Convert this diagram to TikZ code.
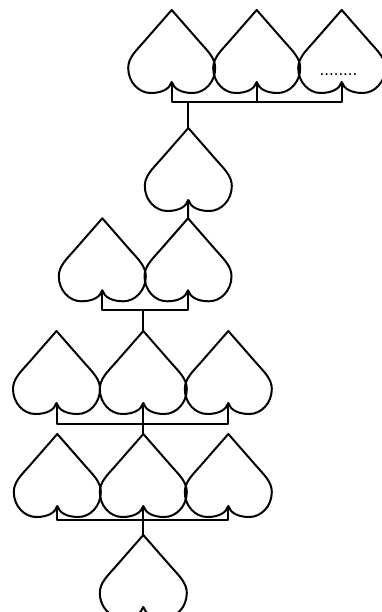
\documentclass[tikz,border=0pt]{standalone}
\usepackage{fontspec}
\setmainfont{Liberation Sans}
\begin{document}
\begin{tikzpicture}[x=1pt,y=-1pt,line width=2pt,line join=round,
  heart/.pic={
    \draw (0,0) -- (-28,32) .. controls (-36,41) and (-43.5,48) .. (-43.5,58)
      .. controls (-43.5,72) and (-33,83) .. (-21,83)
      .. controls (-10,83) and (-2,79) .. (0,72)
      .. controls (2,79) and (10,83) .. (21,83)
      .. controls (33,83) and (43.5,72) .. (43.5,58)
      .. controls (43.5,48) and (36,41) .. (28,32) -- cycle;
    \coordinate (-apex) at (0,0);
    \coordinate (-cusp) at (0,72);
  },
  dots/.style={font=\fontsize{17}{17}\selectfont,inner sep=0pt,anchor=base}]
\useasboundingbox (0,0) rectangle (381,612);
% row 1
\pic (a1) at (171.7,10) {heart};
\pic (a2) at (256.7,10) {heart};
\pic (a3) at (341.7,10) {heart};
\node[dots] (dt) at (338.5,76) {........};
% row 2
\pic (b) at (188.3,128) {heart};
% row 3
\pic (c1) at (102.3,218.3) {heart};
\pic (c2) at (188,218.3) {heart};
% row 4
\pic (d1) at (56.5,331) {heart};
\pic (d2) at (143.3,331) {heart};
\pic (d3) at (228.3,331) {heart};
% row 5
\pic (e1) at (57.3,434) {heart};
\pic (e2) at (143.3,434) {heart};
\pic (e3) at (228.3,434) {heart};
% row 6
\pic (f) at (143.3,535) {heart};
% connectors
\coordinate (r1) at (0,101.7);
\coordinate (r3) at (0,310);
\coordinate (r4) at (0,424);
\coordinate (r5) at (0,519.5);
\draw (a1-cusp) -- (a1-cusp |- r1) -- (a3-cusp |- r1) -- (a3-cusp);
\draw (a2-cusp) -- (a2-cusp |- r1);
\draw (b-apex |- r1) -- (b-apex);
\draw (b-cusp) -- (c2-apex);
\draw (c1-cusp) -- (c1-cusp |- r3) -- (c2-cusp |- r3) -- (c2-cusp);
\draw (d2-apex |- r3) -- (d2-apex);
\draw (d1-cusp) -- (d1-cusp |- r4) -- (d3-cusp |- r4) -- (d3-cusp);
\draw (d2-cusp) -- (e2-apex);
\draw (e1-cusp) -- (e1-cusp |- r5) -- (e3-cusp |- r5) -- (e3-cusp);
\draw (e2-cusp) -- (f-apex);
\end{tikzpicture}
\end{document}
